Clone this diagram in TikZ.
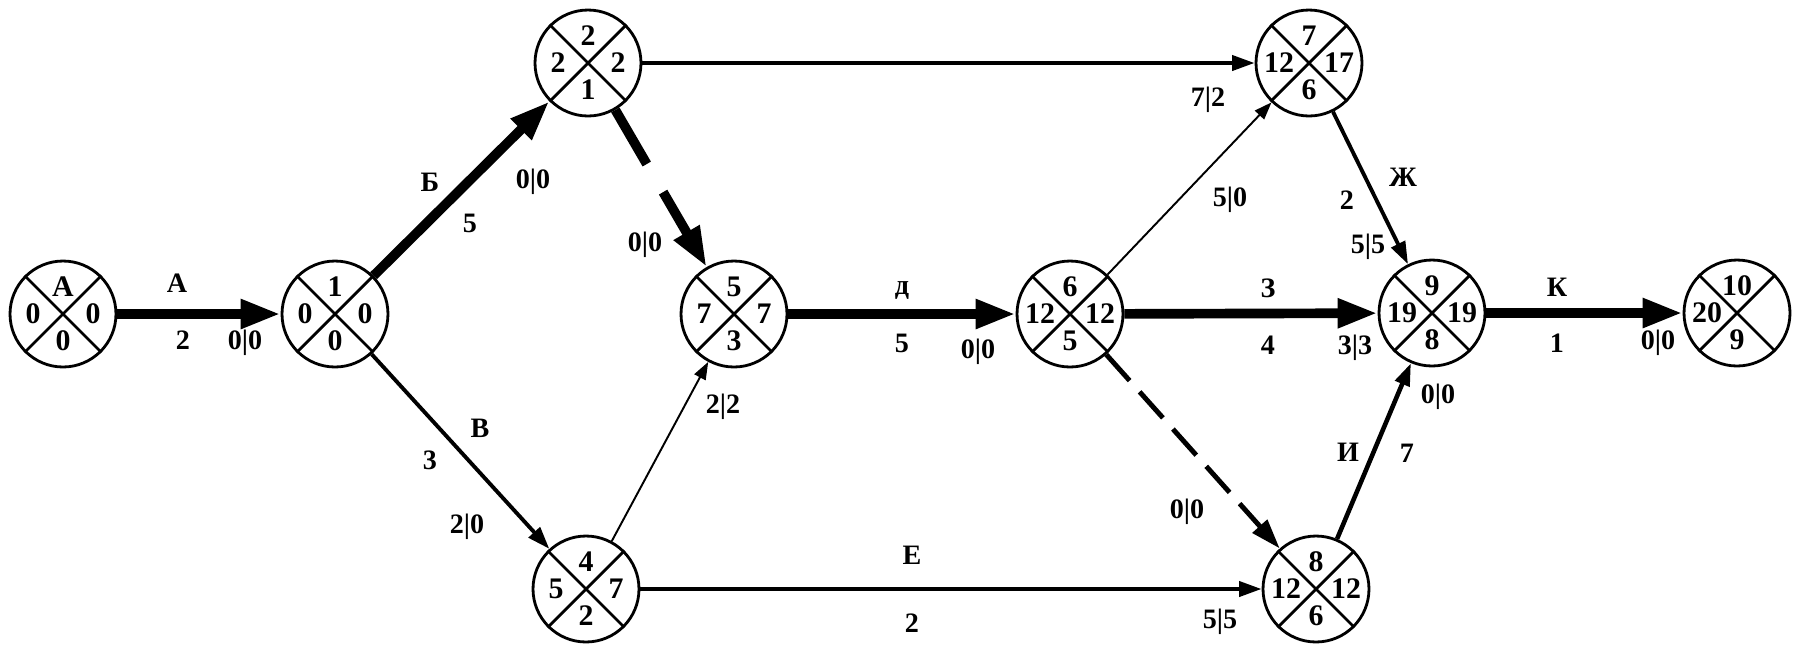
\documentclass[tikz,border=0pt]{standalone}
\usepackage{fontspec}
\setmainfont{Liberation Serif}
\usetikzlibrary{arrows.meta}

% event circle: name, position, top, left, right, bottom
\newcommand{\evnode}[6]{%
  \node[evt] (#1) at (#2) {};
  \draw[line width=1.6pt] (#1.45) -- (#1.225) (#1.135) -- (#1.315);
  \node[qnum,yshift=0.54cm] (#1t) at (#1) {#3};
  \node[qnum,xshift=-0.6cm] (#1l) at (#1) {#4};
  \node[qnum,xshift=0.6cm] (#1r) at (#1) {#5};
  \node[qnum,yshift=-0.54cm] (#1b) at (#1) {#6};}

\begin{document}
\begin{tikzpicture}[x=0.02cm,y=-0.02cm,line width=1.6pt]
  \tikzset{evt/.style={circle,draw,line width=1.6pt,minimum size=2.12cm,inner sep=0pt},
    qnum/.style={font=\fontsize{17}{17}\selectfont\bfseries,inner sep=0pt},
    elab/.style={font=\fontsize{16}{16}\selectfont\bfseries,inner sep=0pt},
    crit/.style={line width=5.5pt,-{Triangle[length=0.8cm,width=0.55cm]}},
    work/.style={line width=2.2pt,-{Triangle[length=0.45cm,width=0.3cm]}},
    weak/.style={line width=1.1pt,-{Triangle[length=0.35cm,width=0.25cm]}}}
  \useasboundingbox (0,0) rectangle (1799,647);
  % events
  \evnode{n0}{63,314}{А}{0}{0}{0}
  \evnode{n1}{335,314}{1}{0}{0}{0}
  \evnode{n2}{588,63}{2}{2}{2}{1}
  \evnode{n3}{734,314}{5}{7}{7}{3}
  \evnode{n4}{586,589}{4}{5}{7}{2}
  \evnode{n5}{1070,314}{6}{12}{12}{5}
  \evnode{n6}{1309,63}{7}{12}{17}{6}
  \evnode{n7}{1316,589}{8}{12}{12}{6}
  \evnode{n8}{1432,313}{9}{19}{19}{8}
  \evnode{n9}{1737,313}{10}{20}{}{9}
  % works
  \draw[crit] (n0) -- (n1);
  \draw[crit] (n1) -- (n2);
  \draw[work] (n1) -- (n4);
  \draw[crit,dash pattern=on 1.25cm off 0.65cm] (n2) -- (n3);
  \draw[weak] (n4) -- (n3);
  \draw[crit] (n3) -- (n5);
  \draw[work] (n2) -- (n6);
  \draw[work] (n4) -- (n7);
  \draw[weak] (n5) -- (n6);
  \draw[crit] (n5) -- (n8);
  \draw[line width=2.8pt,dash pattern=on 0.7cm off 0.3cm,-{Triangle[length=0.6cm,width=0.38cm]}] (n5) -- (n7);
  \draw[work] (n6) -- (n8);
  \draw[work,line width=2.6pt] (n7) -- (n8);
  \draw[crit] (n8) -- (n9);
  % labels
  \node[elab] (nmA) at (177,283) {А};
  \node[elab] (drA) at (183,340) {2};
  \node[elab] (rsA) at (245,343) {0|0};
  \node[elab] (nmB) at (430,182) {Б};
  \node[elab] (drB) at (470,223) {5};
  \node[elab] (rsB) at (533,182) {0|0};
  \node[elab] (nmV) at (480,428) {В};
  \node[elab] (drV) at (430,460) {3};
  \node[elab] (rsV) at (467,527) {2|0};
  \node[elab] (rsF1) at (645,245) {0|0};
  \node[elab] (rsG) at (723,407) {2|2};
  \node[elab] (nmD) at (902,290) {д};
  \node[elab] (drD) at (902,343) {5};
  \node[elab] (rsD) at (978,352) {0|0};
  \node[elab] (rsT) at (1208,100) {7|2};
  \node[elab] (rsL) at (1230,200) {5|0};
  \node[elab] (nmZh) at (1403,177) {Ж};
  \node[elab] (drZh) at (1347,200) {2};
  \node[elab] (rsZh) at (1368,247) {5|5};
  \node[elab] (nmZ) at (1268,288) {З};
  \node[elab] (drZ) at (1268,345) {4};
  \node[elab] (rsZ) at (1355,348) {3|3};
  \node[elab] (nmE) at (912,555) {Е};
  \node[elab] (drE) at (912,623) {2};
  \node[elab] (rsE) at (1220,622) {5|5};
  \node[elab] (rsF2) at (1187,512) {0|0};
  \node[elab] (nmI) at (1348,452) {И};
  \node[elab] (drI) at (1407,453) {7};
  \node[elab] (rsI) at (1438,397) {0|0};
  \node[elab] (nmK) at (1557,287) {К};
  \node[elab] (drK) at (1557,343) {1};
  \node[elab] (rsK) at (1658,343) {0|0};
\end{tikzpicture}
\end{document}
